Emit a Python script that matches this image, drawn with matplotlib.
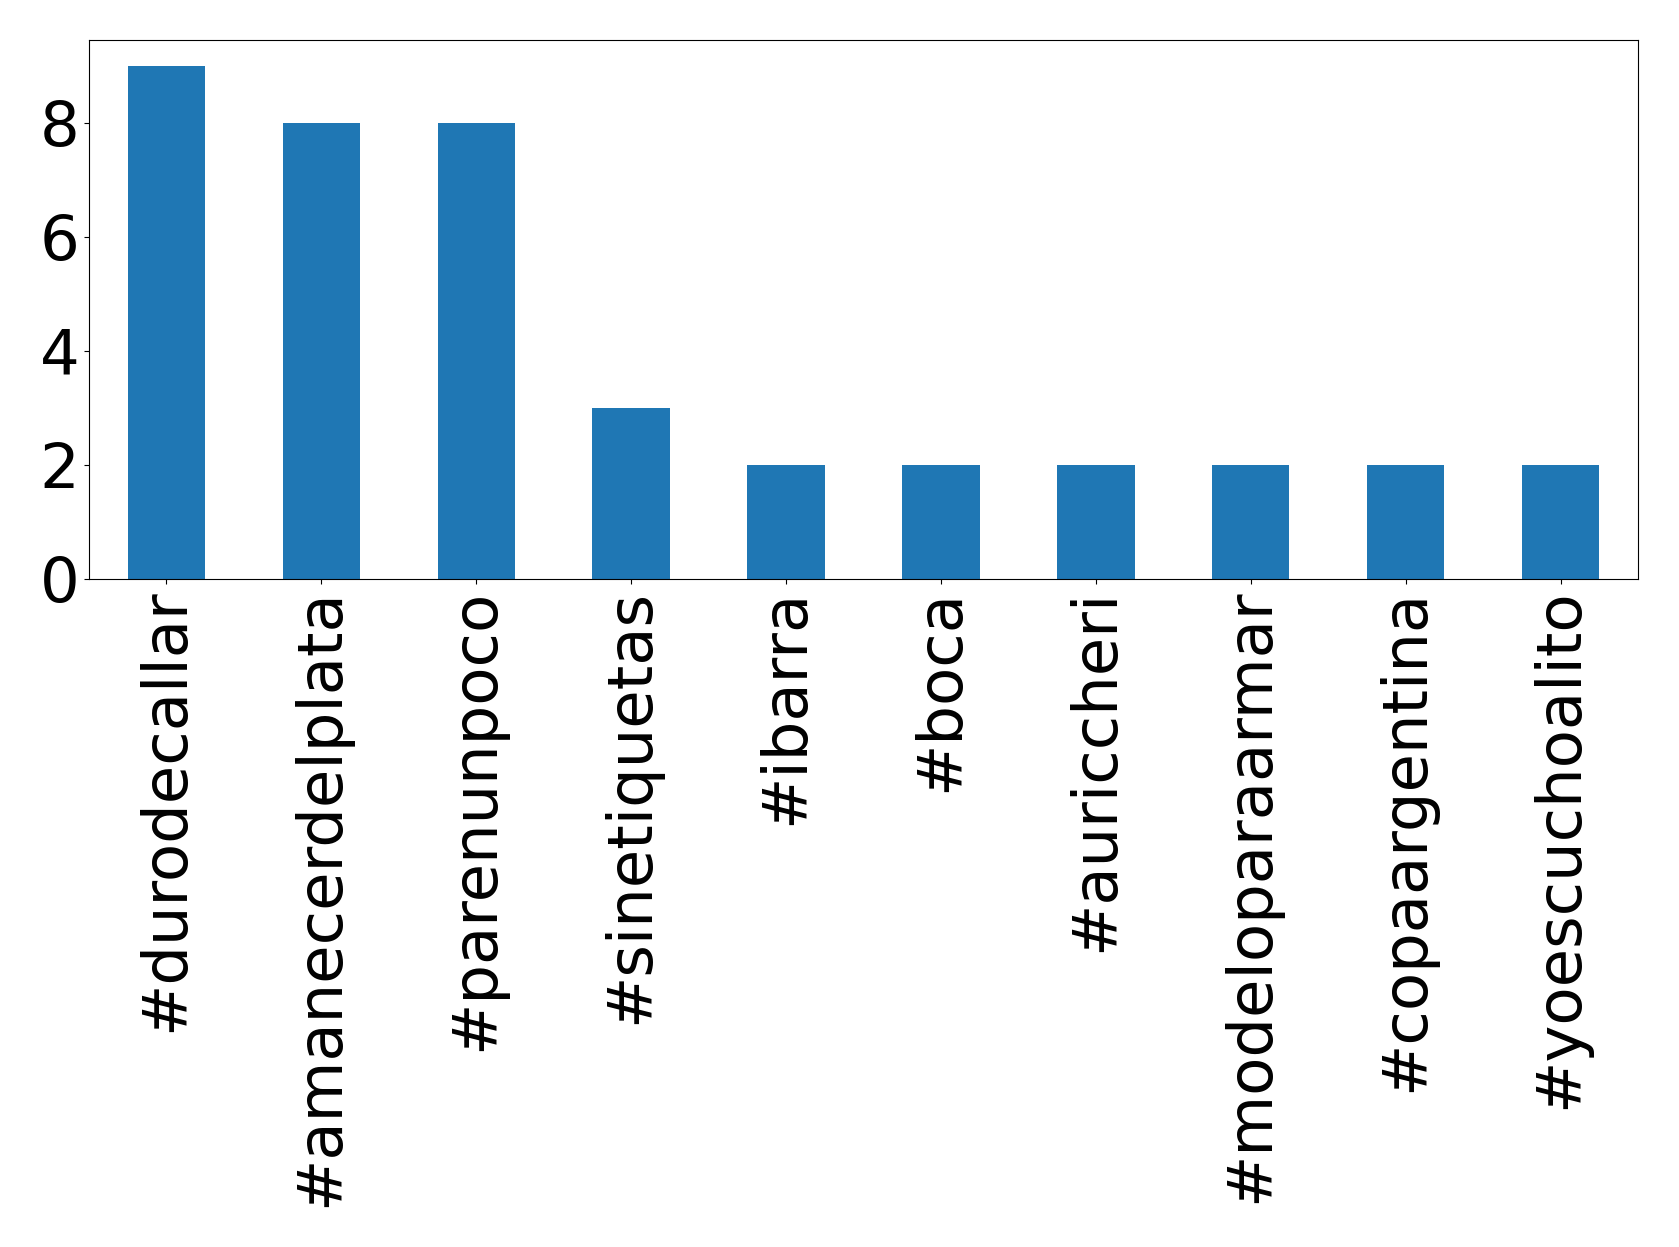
import matplotlib
matplotlib.use("Agg")
import matplotlib.pyplot as plt
import pandas as pd

# hashtag counts
hashtags = ["#durodecallar", "#amanecerdelplata", "#parenunpoco", "#sinetiquetas",
            "#ibarra", "#boca", "#auriccheri", "#modeloparaarmar",
            "#copaargentina", "#yoescuchoalito"]
counts = [9, 8, 8, 3, 2, 2, 2, 2, 2, 2]

s = pd.Series(counts, index=hashtags)

fig = plt.figure(figsize=(16.79, 12.47), dpi=100)
ax = fig.add_subplot(111)
s.plot(kind="bar", ax=ax, fontsize=45, color="#1f77b4")
fig.subplots_adjust(left=0.053, right=0.9756, top=0.968, bottom=0.5357)

fig.savefig("out.png", dpi=100)
